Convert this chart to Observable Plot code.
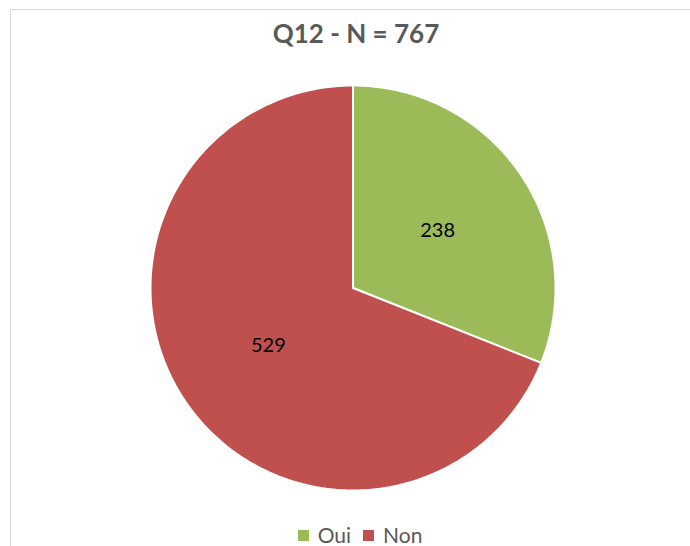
<!DOCTYPE html>
<html>
<head>
<meta charset="utf-8">
<script src="https://cdn.jsdelivr.net/npm/d3@7"></script>
<script src="https://cdn.jsdelivr.net/npm/@observablehq/plot@0.6"></script>
<style>
  html, body { margin: 0; padding: 0; background: #fff; }
  #wrap { position: relative; width: 690px; height: 546px; overflow: hidden; font-family: Lato, "Open Sans", sans-serif; }
  #frame { position: absolute; left: 10px; top: 9px; width: 700px; height: 560px; border-left: 1px solid #d9d9d9; border-top: 1px solid #d9d9d9; }
  #title { position: absolute; left: 0; width: 712px; top: 17px; text-align: center; font-size: 26px; font-weight: bold; color: #595959; }
  #plot { position: absolute; left: 0; top: 0; }
  #legend { position: absolute; left: 0; width: 720px; top: 522px; text-align: center; font-size: 21px; color: #595959; }
  .sw { display: inline-block; width: 11px; height: 11px; margin-right: 9px; vertical-align: 2px; }
  .item { margin: 0 6px; }
</style>
</head>
<body>
<div id="wrap">
  <div id="frame"></div>
  <div id="plot"></div>
  <div id="title">Q12 - N = 767</div>
  <div id="legend"></div>
</div>
<script>
const categories = ["Oui", "Non"];
const values = [238, 529];
const colors = ["#9BBB59", "#C0504D"];

const pie = d3.pie().sort(null).value(d => d.value)
  .startAngle(0).endAngle(2 * Math.PI);
const arcs = pie(categories.map((c, i) => ({category: c, value: values[i]})));

// build slice outlines (unit radius) from computed angles
const outline = [];
arcs.forEach(a => {
  const n = 180;
  outline.push({category: a.data.category, x: 0, y: 0});
  for (let k = 0; k <= n; k++) {
    const t = a.startAngle + (a.endAngle - a.startAngle) * k / n;
    outline.push({category: a.data.category, x: Math.sin(t), y: Math.cos(t)});
  }
});
const labels = arcs.map(a => {
  const m = (a.startAngle + a.endAngle) / 2;
  return {category: a.data.category, value: a.data.value, x: 0.505 * Math.sin(m), y: 0.505 * Math.cos(m)};
});

const cx = 352.5, cy = 287.5, r = 202.5;
const chart = Plot.plot({
  width: 690,
  height: 546,
  margin: 0,
  x: {domain: [-1, 1], range: [cx - r, cx + r], axis: null},
  y: {domain: [-1, 1], range: [cy + r, cy - r], axis: null},
  color: {domain: categories, range: colors},
  marks: [
    Plot.line(outline, {x: "x", y: "y", z: "category", fill: "category", stroke: "#fff", strokeWidth: 2, curve: "linear-closed"}),
    Plot.text(labels, {x: "x", y: "y", text: d => String(d.value), fontSize: 20, fill: "#000", fontFamily: "Lato, 'Open Sans', sans-serif"})
  ]
});
document.getElementById("plot").appendChild(chart);

const legend = document.getElementById("legend");
categories.forEach((c, i) => {
  const s = document.createElement("span");
  s.className = "item";
  s.innerHTML = `<span class="sw" style="background:${colors[i]}"></span>${c}`;
  legend.appendChild(s);
});
</script>
</body>
</html>
